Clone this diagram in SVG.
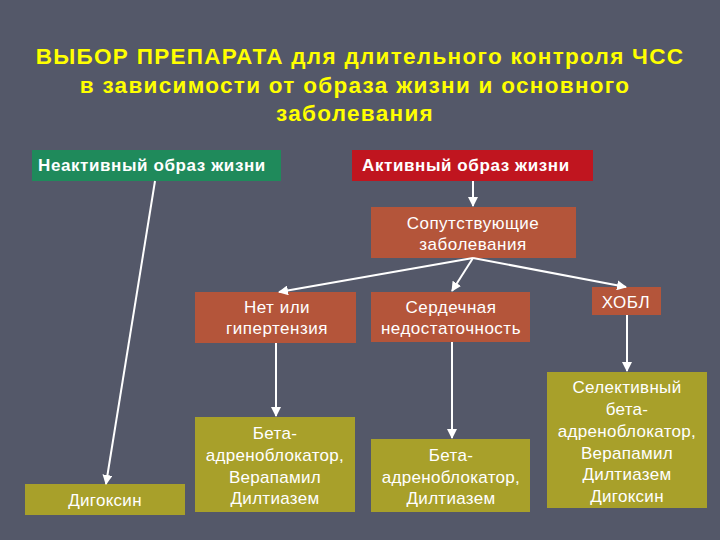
<svg xmlns="http://www.w3.org/2000/svg" width="720" height="540" viewBox="0 0 720 540">
<style>
.t{font-family:"Liberation Sans",Arial,sans-serif;fill:#fff;text-anchor:middle}
.title{font-family:"Liberation Sans",Arial,sans-serif;font-weight:bold;font-size:22.5px;letter-spacing:1.3px;fill:#ffff00;text-anchor:middle}
.hd{font-size:17px;font-weight:bold;text-anchor:start;letter-spacing:0.6px}
.n{font-size:17px;letter-spacing:0.5px}
.o{font-size:17px;letter-spacing:0.3px}
.green{fill:#1f8a5b}
.red{fill:#c0151f}
.org{fill:#b4553a}
.olv{fill:#a8a02a}
.c line{stroke:#fff;stroke-width:2;marker-end:url(#ah)}
</style>
<defs>
<marker id="ah" viewBox="0 0 10 10" refX="9" refY="5" markerWidth="5" markerHeight="5" orient="auto" markerUnits="strokeWidth">
<path d="M0,0 L10,5 L0,10 z" fill="#fff"/>
</marker>
</defs>
<rect width="720" height="540" fill="#545869"/>
<g id="title">
<text class="title" x="360" y="64">ВЫБОР ПРЕПАРАТА для длительного контроля ЧСС</text>
<text class="title" x="355" y="93">в зависимости от образа жизни и основного</text>
<text class="title" x="355" y="121">заболевания</text>
</g>
<g id="inactive"><rect class="green" x="32" y="150" width="249" height="31"/><text class="t hd" x="38" y="171">Неактивный образ жизни</text></g>
<g id="active"><rect class="red" x="352" y="150" width="241" height="31"/><text class="t hd" x="362" y="171">Активный образ жизни</text></g>
<g id="comorb"><rect class="org" x="371" y="207" width="205" height="51"/><text class="t n" x="473" y="229">Сопутствующие</text><text class="t n" x="473" y="250">заболевания</text></g>
<g id="none"><rect class="org" x="195" y="292" width="161" height="51"/><text class="t n" x="277" y="313">Нет или</text><text class="t n" x="277" y="334">гипертензия</text></g>
<g id="hf"><rect class="org" x="371" y="292" width="159" height="50"/><text class="t n" x="451" y="313">Сердечная</text><text class="t n" x="451" y="334">недостаточность</text></g>
<g id="copd"><rect class="org" x="592" y="287" width="69" height="28"/><text class="t n" x="626" y="308">ХОБЛ</text></g>
<g id="digoxin"><rect class="olv" x="25" y="484" width="160" height="31"/><text class="t o" x="105" y="506">Дигоксин</text></g>
<g id="beta1"><rect class="olv" x="195" y="417" width="160" height="95"/><text class="t o" x="275" y="439">Бета-</text><text class="t o" x="275" y="461">адреноблокатор,</text><text class="t o" x="275" y="483">Верапамил</text><text class="t o" x="275" y="504">Дилтиазем</text></g>
<g id="beta2"><rect class="olv" x="371" y="439" width="159" height="73"/><text class="t o" x="451" y="461">Бета-</text><text class="t o" x="451" y="483">адреноблокатор,</text><text class="t o" x="451" y="504">Дилтиазем</text></g>
<g id="selective"><rect class="olv" x="547" y="372" width="160" height="136"/><text class="t o" x="627" y="393">Селективный</text><text class="t o" x="627" y="415">бета-</text><text class="t o" x="627" y="437">адреноблокатор,</text><text class="t o" x="627" y="459">Верапамил</text><text class="t o" x="627" y="480">Дилтиазем</text><text class="t o" x="627" y="502">Дигоксин</text></g>
<g id="connectors" class="c">
<line x1="155" y1="181" x2="106" y2="484"/>
<line x1="473" y1="181" x2="473" y2="206"/>
<line x1="473" y1="258" x2="279" y2="292"/>
<line x1="473" y1="258" x2="452" y2="291"/>
<line x1="473" y1="258" x2="626" y2="287"/>
<line x1="276" y1="343" x2="276" y2="416"/>
<line x1="452" y1="342" x2="452" y2="438"/>
<line x1="627" y1="315" x2="627" y2="371"/>
</g>
</svg>
